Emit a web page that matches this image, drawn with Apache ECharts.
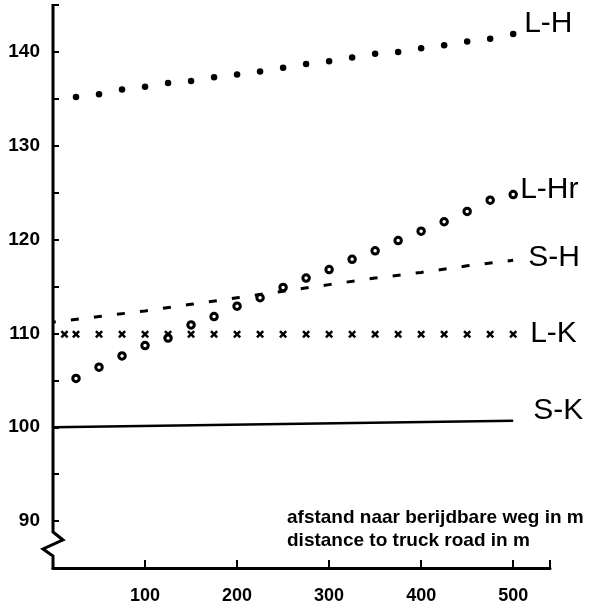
<!DOCTYPE html>
<html><head><meta charset="utf-8">
<script src="https://cdn.jsdelivr.net/npm/echarts@6/dist/echarts.min.js"></script>
<style>html,body{margin:0;padding:0;background:#fff}#c{width:598px;height:607px}</style>
</head><body><div id="c"></div>
<script>
// ---- data ----
const distances = [25,50,75,100,125,150,175,200,225,250,275,300,325,350,375,400,425,450,475,500];
const lhValues  = [135.2,135.5,136.0,136.3,136.7,136.9,137.3,137.6,137.9,138.3,138.7,139.0,139.4,139.8,140.0,140.4,140.7,141.1,141.4,141.9];
const lhrValues = [105.2,106.4,107.6,108.7,109.5,110.9,111.8,112.9,113.8,114.9,115.9,116.8,117.9,118.8,119.9,120.9,121.9,123.0,124.2,124.8];
const lkDistances = [12.5,25,50,75,100,125,150,175,200,225,250,275,300,325,350,375,400,425,450,475,500];
const lkValues    = [109.9,109.9,109.9,109.9,109.9,109.9,109.9,109.9,109.9,109.9,109.9,109.9,109.9,109.9,109.9,109.9,109.9,109.9,109.9,109.9,109.9];
const shDistances = [0,50,100,150,200,250,300,350,400,450,500];
const shValues    = [111.2,111.8,112.4,113.1,113.8,114.5,115.2,115.9,116.5,117.2,117.8];
const skDistances = [0,500];
const skValues    = [100,100.7];
const xTickLabels = [100,200,300,400,500];
const yTickLabels = [90,100,110,120,130,140];
const seriesNames = ['L-H','L-Hr','S-H','L-K','S-K'];
const axisTitleLines = ['afstand naar berijdbare weg in m','distance to truck road in m'];

const pairs = (xs, ys) => xs.map((x, i) => [x, ys[i]]);
const FONT = 'Liberation Sans';
const lblStyle = (off) => ({show: true, formatter: '{a}', fontSize: 30, fontFamily: FONT, color: '#000', distance: 0, offset: off});
const hidden = {opacity: 0, width: 0};

const chart = echarts.init(document.getElementById('c'));
chart.setOption({
  animation: false,
  backgroundColor: '#fff',
  grid: {left: 53, right: 48, top: 5, bottom: 39, containLabel: false, outerBoundsMode: 'none'},
  xAxis: {
    type: 'value', min: 0, max: 540, interval: 100,
    axisLine: {show: true, onZero: false, lineStyle: {color: '#000', width: 3}},
    axisTick: {show: true, inside: true, length: 8, lineStyle: {color: '#000', width: 2}},
    axisLabel: {formatter: v => xTickLabels.includes(v) ? String(v) : '', fontSize: 18, fontWeight: 'bold', fontFamily: FONT, color: '#000', margin: 19},
    splitLine: {show: false}
  },
  yAxis: {
    type: 'value', min: 85, max: 145, interval: 5,
    axisLine: {show: false},
    axisTick: {show: true, inside: true, length: 6, lineStyle: {color: '#000', width: 2}},
    axisLabel: {formatter: v => yTickLabels.includes(v) ? String(v) : '', fontSize: 19, fontWeight: 'bold', fontFamily: FONT, color: '#000', margin: 13},
    splitLine: {show: false}
  },
  series: [
    {name: seriesNames[0], type: 'line', data: pairs(distances, lhValues), lineStyle: hidden,
     symbol: 'circle', symbolSize: 6.5, showSymbol: true, itemStyle: {color: '#000'},
     endLabel: lblStyle([11, -10])},
    {name: seriesNames[1], type: 'line', data: pairs(distances, lhrValues), lineStyle: hidden,
     symbol: 'circle', symbolSize: 6.5, showSymbol: true, itemStyle: {color: '#fff', borderColor: '#000', borderWidth: 3},
     endLabel: lblStyle([7, -5])},
    {name: seriesNames[2], type: 'line', data: pairs(shDistances, shValues), showSymbol: false, symbol: 'none',
     lineStyle: {color: '#000', width: 3, type: [8, 15.2], dashOffset: 5.2},
     endLabel: lblStyle([15, -2])},
    {name: seriesNames[3], type: 'line', data: pairs(lkDistances, lkValues), lineStyle: hidden,
     symbol: 'path://M0,2.2L2.2,0L5,2.8L7.8,0L10,2.2L7.2,5L10,7.8L7.8,10L5,7.2L2.2,10L0,7.8L2.8,5Z', symbolSize: 8, showSymbol: true,
     itemStyle: {color: '#000'},
     endLabel: lblStyle([17, -1])},
    {name: seriesNames[4], type: 'line', data: pairs(skDistances, skValues), showSymbol: false, symbol: 'none',
     lineStyle: {color: '#000', width: 2.5},
     endLabel: lblStyle([20, -10])}
  ]
});

// y axis line with a break (zigzag) near the bottom
const pTop = chart.convertToPixel({gridIndex: 0}, [0, 145]);
const pBrk = chart.convertToPixel({gridIndex: 0}, [0, 88.84]);
const pBot = chart.convertToPixel({gridIndex: 0}, [0, 85]);
chart.setOption({
  graphic: [
    {type: 'polyline', shape: {points: [
      [pTop[0], pTop[1] - 1], [pBrk[0], pBrk[1]], [pBrk[0] + 10, pBrk[1] + 8], [pBrk[0] - 10, pBrk[1] + 17],
      [pBrk[0], pBrk[1] + 24], [pBot[0], pBot[1] + 1.5]]},
     style: {stroke: '#000', lineWidth: 3, fill: null}},
    {type: 'text', left: 287, top: 508, style: {text: axisTitleLines[0], font: 'bold 19px "Liberation Sans"', fill: '#000'}},
    {type: 'text', left: 287, top: 531, style: {text: axisTitleLines[1], font: 'bold 19px "Liberation Sans"', fill: '#000'}}
  ]
});
</script>
</body></html>
